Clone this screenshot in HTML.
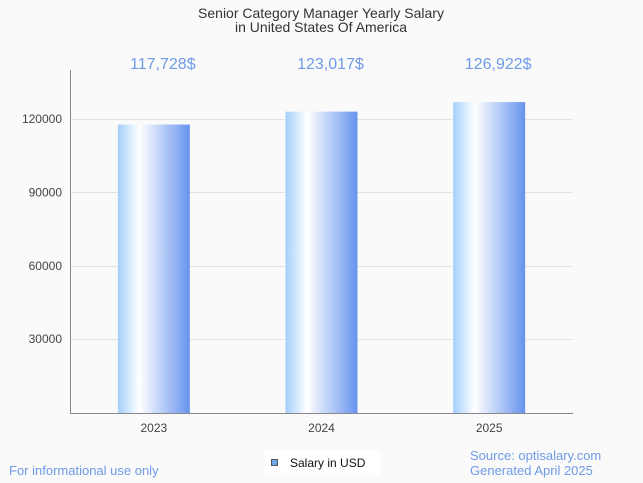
<!DOCTYPE html>
<html><head><meta charset="utf-8"><style>
body{margin:0;background:#fafafa;font-family:"Liberation Sans",sans-serif}
svg{display:block}
</style></head><body>
<svg id="c" width="643" height="483" xmlns="http://www.w3.org/2000/svg">
<defs><linearGradient id="g" x1="0" x2="1" y1="0" y2="0">
<stop offset="0" stop-color="#a3d0fb"/><stop offset="0.3" stop-color="#ffffff"/><stop offset="1" stop-color="#6693ee"/></linearGradient></defs>
<rect width="643" height="483" fill="#fafafa"/>
<text x="321" y="18" text-anchor="middle" font-size="14" fill="#333">Senior Category Manager Yearly Salary</text>
<text x="321" y="32" text-anchor="middle" font-size="14" fill="#333">in United States Of America</text>
<g id="grid"></g><g id="bars"></g>
<line x1="70.5" y1="70" x2="70.5" y2="413" stroke="#888"/>
<line x1="70" y1="413.5" x2="573" y2="413.5" stroke="#888"/>
<rect x="265" y="450" width="115" height="25" fill="#fff"/>
<rect x="271.5" y="459.5" width="6" height="6" fill="#6aa6ea" stroke="#555"/>
<text x="290" y="467" font-size="12" fill="#111">Salary in USD</text>
<text x="9" y="475" font-size="13" fill="#6f9ae8">For informational use only</text>
<text x="470" y="460" font-size="13" fill="#6f9ae8">Source: optisalary.com</text>
<text x="470" y="475" font-size="13" fill="#6f9ae8">Generated April 2025</text>
</svg>
<script>
const categories=["2023","2024","2025"];
const values=[117728,123017,126922];
const valueLabels=["117,728$","123,017$","126,922$"];
const yTicks=[30000,60000,90000,120000];
const NS="http://www.w3.org/2000/svg";
const y=v=>412.5-v*(412.5-119)/120000;
const bandW=(573-70)/3, x=i=>70+bandW*i+bandW/2;
function mk(t,a,p){const e=document.createElementNS(NS,t);for(const k in a)e.setAttribute(k,a[k]);p.appendChild(e);return e;}
const grid=document.getElementById('grid'),bars=document.getElementById('bars');
yTicks.forEach(t=>{
 const l=mk('line',{x1:70,x2:573,y1:Math.round(y(t))+0.5,y2:Math.round(y(t))+0.5,stroke:'#e2e2e2'},grid);
 
 
 const tx=mk('text',{x:62,y:y(t)+4,'text-anchor':'end','font-size':12,fill:'#444'},grid);
 tx.textContent=t;
 
 
});
categories.forEach((c,i)=>{
 const r=mk('rect',{x:x(i)-36,y:y(values[i]),width:72,height:413-y(values[i]),fill:'url(#g)'},bars);
 
 
 const lb=mk('text',{x:x(i)+9,y:69,'text-anchor':'middle','font-size':16,fill:'#6f9ae8'},bars);
 lb.textContent=valueLabels[i];
 
 
 const xt=mk('text',{x:x(i),y:432,'text-anchor':'middle','font-size':12,fill:'#444'},bars);
 xt.textContent=c;
 
 
});
</script>
</body></html>
